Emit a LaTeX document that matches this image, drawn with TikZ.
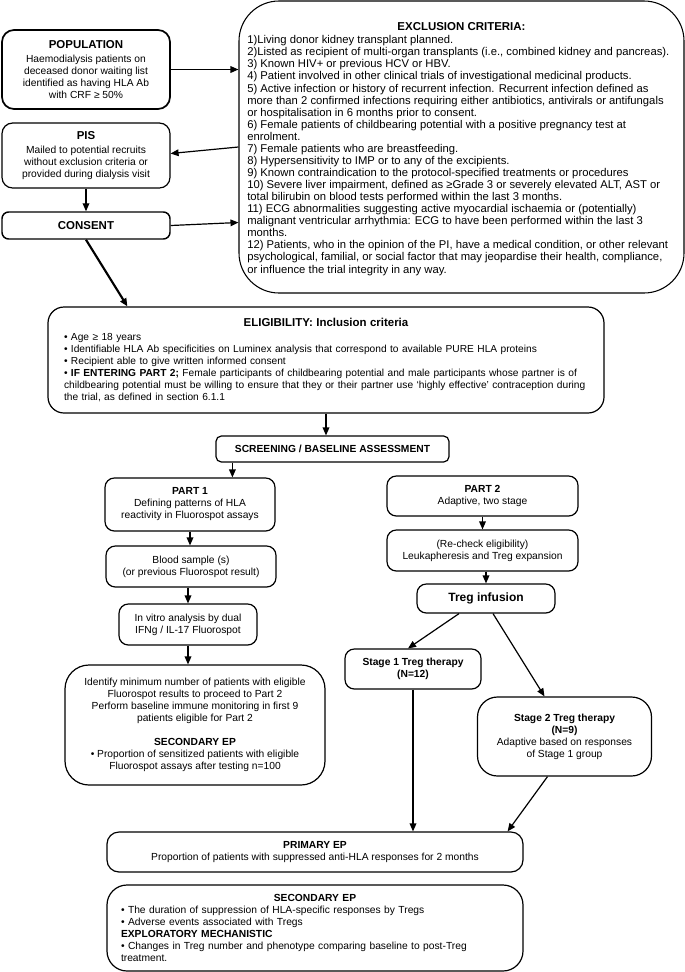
\documentclass[tikz,border=0pt]{standalone}
\usepackage{fontspec}
\setmainfont{Liberation Sans}
\usetikzlibrary{arrows.meta,calc}
\def\PX{0.75pt}
\newcommand{\bodyfont}{\fontsize{7.7}{9}\selectfont}
\newcommand{\exfont}{\fontsize{8.45}{9.05}\selectfont}
\newcommand{\elfont}{\fontsize{7.65}{9}\selectfont}
\newcommand{\ttlfont}{\fontsize{8.6}{10}\selectfont\bfseries}
\begin{document}
\begin{tikzpicture}[x=0.75pt,y=-0.75pt,
  box/.style={draw, line width=0.9pt, rounded corners=7pt, align=center, inner sep=0pt, font=\bodyfont},
  arr/.style={-{Triangle[length=6pt,width=5pt]}, line width=0.9pt},
]
\useasboundingbox (0,0) rectangle (685,972);

% ---------- top left column ----------
\node[box, line width=1.3pt, rounded corners=9pt, minimum width=168*\PX, minimum height=79*\PX] (pop) at (86,69.5)
 {{\ttlfont POPULATION}\\[1.5pt]Haemodialysis patients on\\deceased donor waiting list\\identified as having HLA Ab\\with CRF ≥ 50\%};
\node[box, rounded corners=8pt, minimum width=168*\PX, minimum height=65*\PX] (pis) at (86,155.5)
 {{\ttlfont PIS}\\[1pt]Mailed to potential recruits\\without exclusion criteria or\\provided during dialysis visit};
\node[box, line width=1.1pt, rounded corners=5pt, minimum width=168*\PX, minimum height=27*\PX, font=\ttlfont] (consent) at (86,225.5) {CONSENT};

% ---------- exclusion ----------
\node[box, line width=0.8pt, rounded corners=30pt, minimum width=445*\PX, minimum height=292*\PX] (excl) at (461.5,147) {};
\node[font=\ttlfont, inner sep=0pt] (exttl) at (461.5,27) {EXCLUSION CRITERIA:};
\node[align=left, anchor=west, inner sep=0pt, font=\exfont] (exbody) at (247,155.5)
 {1)Living donor kidney transplant planned.\\
 2)Listed as recipient of multi-organ transplants (i.e., combined kidney and pancreas).\\
 3) Known HIV+ or previous HCV or HBV.\\
 4) Patient involved in other clinical trials of investigational medicinal products.\\
 5) Active infection or history of recurrent infection. Recurrent infection defined as\\
 more than 2 confirmed infections requiring either antibiotics, antivirals or antifungals\\
 or hospitalisation in 6 months prior to consent.\\
 6) Female patients of childbearing potential with a positive pregnancy test at\\
 enrolment.\\
 7) Female patients who are breastfeeding.\\
 8) Hypersensitivity to IMP or to any of the excipients.\\
 9) Known contraindication to the protocol-specified treatments or procedures\\
 10) Severe liver impairment, defined as ≥Grade 3 or severely elevated ALT, AST or\\
 total bilirubin on blood tests performed within the last 3 months.\\
 11) ECG abnormalities suggesting active myocardial ischaemia or (potentially)\\
 malignant ventricular arrhythmia: ECG to have been performed within the last 3\\
 months.\\
 12) Patients, who in the opinion of the PI, have a medical condition, or other relevant\\
 psychological, familial, or social factor that may jeopardise their health, compliance,\\
 or influence the trial integrity in any way.};

% ---------- eligibility ----------
\node[box, rounded corners=12pt, minimum width=556*\PX, minimum height=106*\PX,
      text width=524*\PX, align=left, font=\elfont] (elig) at (326,360)
 {\makebox[\linewidth][c]{\ttlfont ELIGIBILITY: Inclusion criteria}\\[1pt]
 • Age ≥ 18 years\\
 • Identifiable HLA Ab specificities on Luminex analysis that correspond to available PURE HLA proteins\\
 • Recipient able to give written informed consent\\
 • \textbf{IF ENTERING PART 2;} Female participants of childbearing potential and male participants whose partner is of\\
 childbearing potential must be willing to ensure that they or their partner use ‘highly effective’ contraception during\\
 the trial, as defined in section 6.1.1};

\node[box, rounded corners=4pt, minimum width=233*\PX, minimum height=26*\PX, font=\bodyfont\bfseries] (screen) at (332.5,449)
 {SCREENING / BASELINE ASSESSMENT};

% ---------- part 1 column ----------
\node[box, minimum width=170*\PX, minimum height=53*\PX] (part1) at (190,504.5)
 {\textbf{PART 1}\\Defining patterns of HLA\\reactivity in Fluorospot assays};
\node[box, minimum width=170*\PX, minimum height=41*\PX] (blood) at (191,566.5)
 {Blood sample (s)\\(or previous Fluorospot result)};
\node[box, minimum width=138*\PX, minimum height=41*\PX] (invitro) at (188,624.5)
 {In vitro analysis by dual\\IFNg / IL-17 Fluorospot};
\node[box, rounded corners=18pt, minimum width=260*\PX, minimum height=120*\PX] (ident) at (195,725)
 {Identify minimum number of patients with eligible\\Fluorospot results to proceed to Part 2\\Perform baseline immune monitoring in first 9\\patients eligible for Part 2\\[9pt]
 \textbf{SECONDARY EP}\\• Proportion of sensitized patients with eligible\\Fluorospot assays after testing n=100};

% ---------- part 2 column ----------
\node[box, minimum width=191*\PX, minimum height=40*\PX] (part2) at (482.5,496)
 {\textbf{PART 2}\\Adaptive, two stage};
\node[box, minimum width=191*\PX, minimum height=41*\PX] (recheck) at (482.5,550.5)
 {(Re-check eligibility)\\Leukapheresis and Treg expansion};
\node[box, minimum width=138*\PX, minimum height=29*\PX, font=\fontsize{9}{10}\selectfont\bfseries] (treg) at (486,598.5)
 {Treg infusion};
\node[box, minimum width=136*\PX, minimum height=40*\PX, font=\bodyfont\bfseries] (stage1) at (413,669)
 {Stage 1 Treg therapy\\(N=12)};
\node[box, rounded corners=15pt, minimum width=174*\PX, minimum height=79*\PX] (stage2) at (564.5,736.5)
 {\textbf{Stage 2 Treg therapy}\\\textbf{(N=9)}\\Adaptive based on responses\\of Stage 1 group};

% ---------- endpoints ----------
\node[box, rounded corners=9pt, minimum width=416*\PX, minimum height=40*\PX] (primary) at (315,852)
 {\textbf{PRIMARY EP}\\Proportion of patients with suppressed anti-HLA responses for 2 months};
\node[box, rounded corners=15pt, minimum width=416*\PX, minimum height=86*\PX,
      text width=388*\PX, align=left] (secondary) at (315,928)
 {\makebox[\linewidth][c]{\textbf{SECONDARY EP}}\\
 • The duration of suppression of HLA-specific responses by Tregs\\
 • Adverse events associated with Tregs\\
 \textbf{EXPLORATORY MECHANISTIC}\\
 • Changes in Treg number and phenotype comparing baseline to post-Treg\\
 treatment.};

% ---------- connectors ----------
\draw[arr] (pop.east) -- (pop.east -| excl.west);
\draw[arr] (excl.west) -- ($(pis.east)+(0,-2)$);
\draw[arr] (pis.south) -- (consent.north);
\draw[arr] (consent.east) -- ($(consent.east -| excl.west)+(0,-3)$);
\draw[arr, line width=1.6pt] (consent.south) -- ($(elig.north west)+(80,0)$);
\draw[arr] (elig.south) -- (elig.south |- screen.north);
\coordinate (scrL) at ($(screen.south west)+(17,0)$);
\draw[arr] (scrL) -- (scrL |- part1.north);
\draw[arr] (part1.south) -- (part1.south |- blood.north);
\draw[arr] (invitro.north |- blood.south) -- (invitro.north);
\draw[arr] (invitro.south) -- (invitro.south |- ident.north);
\draw[arr] (part2.south) -- (part2.south |- recheck.north);
\draw[arr] (treg.north |- recheck.south) -- (treg.north);
\draw[arr] ($(treg.south)+(-27,0)$) -- ($(stage1.north)+(-5,0)$);
\draw[arr] ($(treg.south)+(7,0)$) -- ($(stage2.north)+(-20,0)$);
\draw[arr] (stage1.south) -- ($(primary.north)+(98,0)$);
\draw[arr] ($(stage2.south)+(-17,0)$) -- ($(primary.north east)+(-16,0)$);
\end{tikzpicture}
\end{document}
